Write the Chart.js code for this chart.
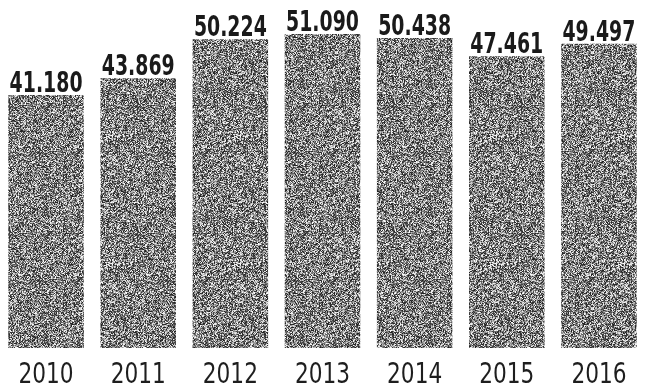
<!DOCTYPE html>
<html>
<head>
<meta charset="utf-8">
<script src="https://cdn.jsdelivr.net/npm/chart.js@4/dist/chart.umd.min.js"></script>
<style>
  html, body { margin: 0; padding: 0; background: #ffffff; }
  #wrap { width: 645px; height: 392px; position: relative; }
</style>
</head>
<body>
<div id="wrap"><canvas id="c" width="645" height="392"></canvas></div>
<script>
// Years shown along the bottom
const years = ['2010', '2011', '2012', '2013', '2014', '2015', '2016'];
// Yearly totals
const totals = [41180, 43869, 50224, 51090, 50438, 47461, 49497];

const FONT = "'DejaVu Sans Condensed', 'DejaVu Sans', sans-serif";

// Grainy grey fill, built from a small seeded generator so it is the same every run
function grainPattern() {
  const size = 128;
  const off = document.createElement('canvas');
  off.width = size; off.height = size;
  const g = off.getContext('2d');
  const img = g.createImageData(size, size);
  let seed = 1234567;
  const rnd = () => { seed = (seed * 1103515245 + 12345) & 0x7fffffff; return seed / 0x7fffffff; };
  for (let i = 0; i < size * size; i++) {
    const v = Math.round(30 + 225 * Math.pow(rnd(), 1.2));
    img.data[i * 4] = v; img.data[i * 4 + 1] = v; img.data[i * 4 + 2] = v; img.data[i * 4 + 3] = 255;
  }
  g.putImageData(img, 0, 0);
  return document.getElementById('c').getContext('2d').createPattern(off, 'repeat');
}

// Draws text squeezed horizontally to imitate a condensed face
function narrowText(ctx, txt, x, y, sx) {
  ctx.save();
  ctx.translate(x, y);
  ctx.scale(sx, 1);
  ctx.fillText(txt, 0, 0);
  ctx.restore();
}

// Value above every bar (German thousands separator) and year below it
const barText = {
  id: 'barText',
  afterDatasetsDraw(chart) {
    const ctx = chart.ctx;
    const meta = chart.getDatasetMeta(0);
    const xs = chart.scales.x;
    ctx.save();
    ctx.textAlign = 'center';
    ctx.textBaseline = 'alphabetic';

    ctx.font = 'bold 28px ' + FONT;
    ctx.fillStyle = '#1a1a1a';
    meta.data.forEach((bar, i) => {
      narrowText(ctx, totals[i].toLocaleString('de-DE'), bar.x, bar.y - 3, 0.75);
    });

    ctx.font = '29px ' + FONT;
    ctx.fillStyle = '#1e1e1e';
    years.forEach((yr, i) => {
      narrowText(ctx, yr, xs.getPixelForValue(i), 383, 0.83);
    });
    ctx.restore();
  }
};

new Chart(document.getElementById('c'), {
  type: 'bar',
  data: {
    labels: years,
    datasets: [{
      data: totals,
      backgroundColor: grainPattern(),
      borderWidth: 0,
      barPercentage: 0.82,
      categoryPercentage: 1.0
    }]
  },
  options: {
    responsive: false,
    animation: false,
    layout: { padding: { left: 0, right: -10, top: 0, bottom: 44 } },
    plugins: { legend: { display: false }, tooltip: { enabled: false } },
    scales: {
      x: {
        grid: { display: false, drawTicks: false },
        border: { display: false },
        ticks: { display: false }
      },
      y: {
        display: false,
        min: 0,
        max: 56620
      }
    }
  },
  plugins: [barText]
});
</script>
</body>
</html>
